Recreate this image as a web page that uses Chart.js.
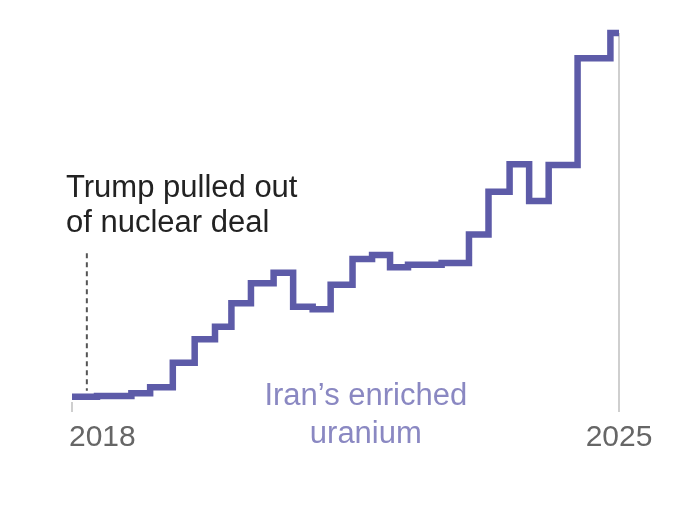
<!DOCTYPE html>
<html>
<head>
<meta charset="utf-8">
<script src="https://cdn.jsdelivr.net/npm/chart.js@4"></script>
<style>
  body { margin: 0; background: #fff; }
  #wrap { width: 680px; height: 515px; position: relative; }
</style>
</head>
<body>
<div id="wrap"><canvas id="uraniumChart"></canvas></div>
<script>
// IAEA report dates (decimal years) and stockpile after each report
const reportYears = [2018.0, 2018.32, 2018.76, 2019.0, 2019.29, 2019.57, 2019.83, 2020.04, 2020.29,
  2020.58, 2020.83, 2021.08, 2021.31, 2021.59, 2021.84, 2022.07, 2022.30, 2022.73, 2023.08,
  2023.33, 2023.60, 2023.85, 2024.10, 2024.47, 2024.89, 2025.0];
const stockpileKg = [130, 150, 220, 370, 980, 1570, 1880, 2470, 2970,
  3230, 2380, 2320, 2930, 3580, 3680, 3370, 3430, 3480, 4190,
  5260, 5950, 5030, 5930, 8600, 9230, 9230];

const tickYears = [2018, 2025];
const tickLabels = ['2018', '2025'];

// annotation
const dealExitYear = 2018.19;
const dealExitRange = [280, 3720];
const dealExitLines = ['Trump pulled out', 'of nuclear deal'];
const seriesLabelLines = ['Iran\u2019s enriched', 'uranium'];
const seriesLabelYear = 2021.76;

const FONT = '"Liberation Sans", Arial, sans-serif';

const annotations = {
  id: 'annotations',
  afterDraw(chart) {
    const { ctx, scales: { x, y } } = chart;
    ctx.save();

    // dashed marker for the deal exit
    const dx = x.getPixelForValue(dealExitYear);
    ctx.strokeStyle = '#555';
    ctx.lineWidth = 2;
    ctx.setLineDash([5, 4]);
    ctx.beginPath();
    ctx.moveTo(dx, y.getPixelForValue(dealExitRange[1]));
    ctx.lineTo(dx, y.getPixelForValue(dealExitRange[0]));
    ctx.stroke();
    ctx.setLineDash([]);

    ctx.fillStyle = '#222';
    ctx.font = '31px ' + FONT;
    ctx.textAlign = 'left';
    ctx.textBaseline = 'alphabetic';
    const left = x.getPixelForValue(2018) - 6;
    ctx.fillText(dealExitLines[0], left, 197);
    ctx.fillText(dealExitLines[1], left, 232);

    // series label
    ctx.fillStyle = '#8a88c2';
    ctx.textAlign = 'center';
    const cx = x.getPixelForValue(seriesLabelYear);
    ctx.fillText(seriesLabelLines[0], cx, 405);
    ctx.fillText(seriesLabelLines[1], cx, 443);

    // axis labels
    ctx.fillStyle = '#666';
    ctx.font = '30px ' + FONT;
    ctx.textAlign = 'left';
    ctx.fillText(tickLabels[0], x.getPixelForValue(tickYears[0]) - 3, 446);
    ctx.textAlign = 'center';
    ctx.fillText(tickLabels[1], x.getPixelForValue(tickYears[1]), 446);

    ctx.restore();
  }
};

new Chart(document.getElementById('uraniumChart'), {
  type: 'line',
  data: {
    datasets: [{
      label: 'Iran\u2019s enriched uranium',
      data: reportYears.map((yr, i) => ({ x: yr, y: stockpileKg[i] })),
      borderColor: '#5d5ba8',
      borderWidth: 6.5,
      stepped: true,
      pointRadius: 0,
      fill: false,
      clip: false,
      borderCapStyle: 'butt',
      borderJoinStyle: 'miter'
    }]
  },
  options: {
    responsive: true,
    maintainAspectRatio: false,
    animation: false,
    layout: { padding: { left: 72, right: 61, top: 33, bottom: 103 } },
    plugins: { legend: { display: false }, tooltip: { enabled: false } },
    scales: {
      x: {
        type: 'linear',
        min: 2018,
        max: 2025,
        afterBuildTicks: axis => { axis.ticks = tickYears.map(v => ({ value: v })); },
        ticks: { display: false },
        border: { display: false },
        grid: {
          color: c => (c.tick && c.tick.value === 2025) ? '#cfcfcf' : 'rgba(0,0,0,0)',
          tickColor: '#cfcfcf',
          tickLength: 10,
          lineWidth: 2
        }
      },
      y: {
        display: false,
        min: 0,
        max: 9230
      }
    }
  },
  plugins: [annotations]
});
</script>
</body>
</html>
